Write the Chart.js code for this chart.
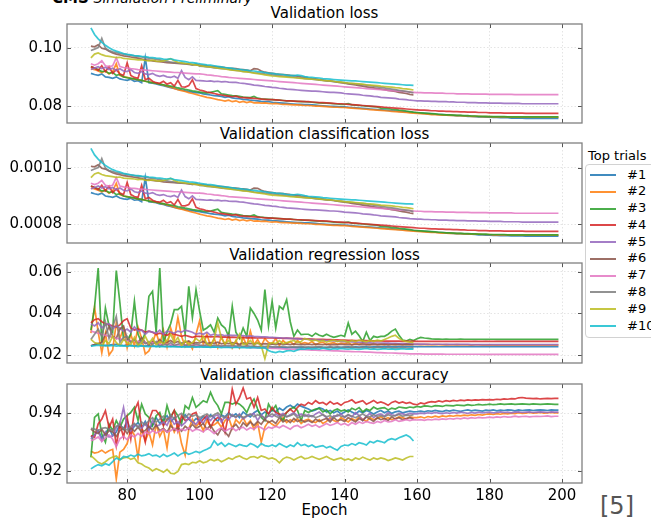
<!DOCTYPE html>
<html><head><meta charset="utf-8">
<script src="https://cdn.jsdelivr.net/npm/chart.js@4.4.1/dist/chart.umd.min.js"></script>
<style>
body{margin:0;width:651px;height:519px;overflow:hidden;background:#fff;position:relative;font-family:"DejaVu Sans",sans-serif;color:#000}
.t{position:absolute;left:67px;width:515px;text-align:center;font-size:15px;line-height:18px;white-space:nowrap}
canvas{position:absolute;left:0}
#leg{position:absolute;left:585px;top:164px;width:80px;height:172px;border:1px solid #d2d2d2;border-radius:4px;background:#fff}
.li{position:absolute;left:4px;width:26px;height:2px}
.lt{position:absolute;left:41px;font-size:13px;line-height:16px;white-space:nowrap}
</style></head><body>
<div style="position:absolute;left:52px;top:-11px;font-size:15px;line-height:18px;white-space:nowrap"><b>CMS</b> <i style="font-size:14px">Simulation Preliminary</i></div>
<div class="t" id="t1" style="top:4px"></div>
<div class="t" id="t2" style="top:125px"></div>
<div class="t" id="t3" style="top:246px"></div>
<div class="t" id="t4" style="top:366px"></div>
<div class="t" id="xt" style="top:501px"></div>
<div style="position:absolute;left:588px;top:148px;font-size:13px;line-height:16px;white-space:nowrap">Top trials</div>
<div id="leg"></div>
<div style="position:absolute;left:600px;top:492px;font-size:24px;line-height:28px;color:#555;white-space:nowrap">[5]</div>
<script>
const names=['#1','#2','#3','#4','#5','#6','#7','#8','#9','#10'];
const colors=['#1f77b4','#ff7f0e','#2ca02c','#d62728','#9467bd','#8c564b','#e377c2','#7f7f7f','#bcbd22','#17becf'];
const titles=['Validation loss','Validation classification loss','Validation regression loss','Validation classification accuracy'];
const xLabel='Epoch';
const xTicks=[80,100,120,140,160,180,200];
const yTicks1=[0.08,0.10], yLabels1=['0.08','0.10'];
const yTicks2=[0.0008,0.0010], yLabels2=['0.0008','0.0010'];
const yTicks3=[0.02,0.04,0.06], yLabels3=['0.02','0.04','0.06'];
const yTicks4=[0.92,0.94], yLabels4=['0.92','0.94'];
const epochs=[];for(let e=70;e<=199;e++)epochs.push(e);

// Validation loss
const loss1=[.0912,.0908,.0905,.0910,.0900,.0898,.0895,.0900,.0893,.0890,.0888,.0892,.0885,.0887,.0880,.0965,.0880,.0878,.0876,.0872,.0870,.0866,.0863,.0860,.0857,.0855,.0852,.0850,.0848,.0846,.0845,.0842,.0840,.0838,.0836,.0835,.0833,.0830,.0832,.0828,.0826,.0825,.0823,.0822,.0820,.0819,.0818,.0816,.0815,.0815,.0813,.0812,.0811,.0810,.0809,.0808,.0807,.0806,.0806,.0805,.0805,.0804,.0803,.0802,.0801,.0800,.0799,.0799,.0798,.0797,.0797,.0796,.0795,.0794,.0793,.0792,.0791,.0790,.0789,.0788,.0787,.0786,.0785,.0784,.0783,.0782,.0781,.0780,.0779,.0778,.0777,.0776,.0775,.0774,.0773,.0772,.0771,.0771,.0770,.0769,.0768,.0767,.0767,.0766,.0765,.0765,.0764,.0763,.0763,.0762,.0762,.0761,.0761,.0760,.0760,.0760,.0759,.0759,.0759,.0759,.0758,.0758,.0758,.0758,.0758,.0758,.0758,.0758,.0758,.0758];
const loss2=[.0928,.0925,.0920,.0915,.0920,.0910,.0918,.0945,.0905,.0900,.0898,.0895,.0892,.0890,.0888,.0885,.0884,.0880,.0878,.0875,.0872,.0868,.0865,.0860,.0856,.0853,.0850,.0846,.0843,.0840,.0836,.0833,.0830,.0828,.0825,.0822,.0820,.0817,.0820,.0815,.0818,.0813,.0816,.0812,.0815,.0811,.0812,.0810,.0811,.0809,.0808,.0809,.0807,.0806,.0806,.0805,.0804,.0804,.0803,.0802,.0802,.0801,.0800,.0800,.0799,.0798,.0797,.0796,.0796,.0795,.0795,.0794,.0793,.0792,.0791,.0790,.0789,.0788,.0787,.0786,.0785,.0784,.0783,.0782,.0781,.0780,.0779,.0778,.0777,.0776,.0775,.0774,.0773,.0772,.0771,.0771,.0770,.0769,.0769,.0768,.0768,.0767,.0767,.0766,.0766,.0765,.0765,.0765,.0764,.0764,.0764,.0763,.0763,.0763,.0763,.0763,.0762,.0762,.0762,.0762,.0762,.0762,.0762,.0762,.0762,.0762,.0762,.0762,.0762,.0762];
const loss3=[.0935,.0930,.0925,.0918,.0920,.0912,.0915,.0905,.0908,.0900,.0897,.0895,.0893,.0890,.0888,.0885,.0882,.0880,.0878,.0875,.0873,.0870,.0868,.0866,.0862,.0860,.0857,.0855,.0852,.0850,.0848,.0846,.0845,.0847,.0850,.0853,.0842,.0840,.0838,.0836,.0835,.0833,.0831,.0830,.0829,.0833,.0827,.0825,.0824,.0823,.0822,.0821,.0820,.0819,.0818,.0818,.0817,.0816,.0815,.0815,.0814,.0813,.0812,.0811,.0810,.0810,.0809,.0808,.0807,.0806,.0806,.0808,.0804,.0803,.0802,.0801,.0800,.0799,.0798,.0797,.0793,.0792,.0791,.0789,.0788,.0786,.0785,.0783,.0781,.0779,.0778,.0777,.0776,.0775,.0774,.0773,.0772,.0771,.0770,.0770,.0769,.0768,.0768,.0767,.0767,.0766,.0766,.0765,.0765,.0765,.0764,.0764,.0764,.0764,.0764,.0763,.0763,.0763,.0763,.0763,.0763,.0763,.0763,.0763,.0763,.0763,.0763,.0763,.0763,.0763];
const loss4=[.0935,.0930,.0922,.0938,.0918,.0935,.0912,.0925,.0910,.0905,.0948,.0905,.0898,.0895,.0938,.0890,.0895,.0885,.0880,.0878,.0885,.0875,.0880,.0868,.0888,.0866,.0865,.0870,.0890,.0860,.0855,.0852,.0848,.0846,.0843,.0840,.0838,.0836,.0834,.0832,.0834,.0830,.0829,.0828,.0827,.0826,.0825,.0824,.0823,.0822,.0822,.0821,.0820,.0819,.0818,.0818,.0817,.0816,.0816,.0815,.0815,.0814,.0813,.0812,.0812,.0811,.0810,.0809,.0808,.0808,.0807,.0806,.0805,.0804,.0803,.0802,.0801,.0800,.0799,.0798,.0797,.0796,.0795,.0794,.0793,.0792,.0791,.0790,.0789,.0788,.0787,.0786,.0786,.0785,.0784,.0784,.0783,.0783,.0782,.0782,.0781,.0781,.0780,.0780,.0779,.0779,.0779,.0778,.0778,.0778,.0777,.0777,.0777,.0777,.0776,.0776,.0776,.0776,.0776,.0776,.0775,.0775,.0775,.0775,.0775,.0775,.0775,.0775,.0775,.0775];
const loss5=[.0925,.0930,.0935,.0928,.0933,.0925,.0930,.0922,.0928,.0920,.0918,.0925,.0915,.0912,.0918,.0910,.0908,.0912,.0905,.0902,.0905,.0900,.0898,.0902,.0895,.0921,.0898,.0890,.0900,.0888,.0887,.0886,.0885,.0886,.0884,.0885,.0883,.0884,.0882,.0881,.0881,.0879,.0878,.0876,.0874,.0872,.0871,.0869,.0867,.0866,.0864,.0863,.0861,.0860,.0858,.0857,.0856,.0855,.0854,.0853,.0852,.0851,.0851,.0850,.0849,.0848,.0847,.0847,.0846,.0845,.0843,.0842,.0841,.0840,.0839,.0837,.0836,.0835,.0833,.0832,.0830,.0829,.0828,.0827,.0826,.0824,.0823,.0822,.0820,.0819,.0818,.0818,.0817,.0817,.0816,.0816,.0815,.0815,.0815,.0814,.0814,.0813,.0813,.0813,.0812,.0812,.0812,.0811,.0811,.0811,.0810,.0810,.0810,.0810,.0809,.0809,.0809,.0809,.0809,.0808,.0808,.0808,.0808,.0808,.0808,.0808,.0808,.0808,.0808,.0808];
const loss6=[.1005,.1003,.1010,.0998,.0995,.0988,.0982,.0978,.0975,.0972,.0970,.0968,.0966,.0964,.0961,.0958,.0957,.0955,.0953,.0952,.0950,.0949,.0948,.0947,.0946,.0945,.0944,.0943,.0942,.0941,.0940,.0939,.0938,.0936,.0935,.0934,.0933,.0932,.0930,.0929,.0928,.0926,.0925,.0923,.0921,.0928,.0927,.0920,.0916,.0914,.0912,.0910,.0909,.0908,.0907,.0905,.0904,.0902,.0900,.0899,.0896,.0894,.0893,.0891,.0889,.0887,.0886,.0884,.0882,.0880,.0878,.0876,.0874,.0872,.0870,.0868,.0866,.0864,.0862,.0860,.0858,.0856,.0854,.0852,.0850,.0847,.0845,.0843,.0840,.0838];
const loss7=[.0945,.0940,.0945,.0955,.0938,.0935,.0938,.0965,.0935,.0932,.0930,.0928,.0927,.0925,.0924,.0923,.0922,.0921,.0920,.0919,.0918,.0917,.0916,.0915,.0915,.0914,.0913,.0912,.0911,.0910,.0910,.0909,.0907,.0906,.0904,.0903,.0901,.0900,.0898,.0897,.0896,.0895,.0894,.0893,.0892,.0891,.0890,.0889,.0888,.0887,.0886,.0885,.0884,.0883,.0882,.0881,.0880,.0879,.0878,.0877,.0876,.0875,.0874,.0873,.0872,.0871,.0870,.0869,.0868,.0867,.0866,.0865,.0864,.0863,.0862,.0861,.0860,.0859,.0858,.0857,.0856,.0855,.0854,.0853,.0852,.0851,.0850,.0849,.0848,.0847,.0846,.0846,.0845,.0845,.0845,.0844,.0844,.0844,.0843,.0843,.0843,.0842,.0842,.0842,.0842,.0841,.0841,.0841,.0841,.0841,.0840,.0840,.0840,.0840,.0840,.0840,.0840,.0839,.0839,.0839,.0839,.0839,.0839,.0839,.0839,.0839,.0839,.0839,.0839,.0839];
const loss8=[.0990,.0995,.1000,.1032,.0998,.0990,.0986,.0983,.0980,.0978,.0976,.0974,.0972,.0970,.0968,.0966,.0964,.0962,.0960,.0958,.0955,.0953,.0951,.0949,.0947,.0946,.0945,.0944,.0940,.0945,.0937,.0936,.0934,.0933,.0931,.0930,.0928,.0927,.0926,.0924,.0922,.0921,.0919,.0918,.0916,.0914,.0913,.0912,.0910,.0909,.0907,.0906,.0904,.0903,.0902,.0900,.0899,.0897,.0896,.0894,.0893,.0892,.0890,.0889,.0888,.0886,.0885,.0884,.0882,.0881,.0880,.0878,.0877,.0876,.0874,.0873,.0872,.0870,.0868,.0866,.0864,.0862,.0860,.0858,.0856,.0854,.0852,.0850,.0848,.0845];
const loss9=[.0965,.0978,.0982,.0976,.0972,.0970,.0968,.0966,.0967,.0963,.0962,.0961,.0960,.0958,.0959,.0956,.0955,.0957,.0954,.0953,.0955,.0958,.0962,.0955,.0950,.0948,.0946,.0945,.0943,.0941,.0938,.0937,.0935,.0934,.0932,.0930,.0929,.0927,.0925,.0923,.0922,.0920,.0918,.0917,.0915,.0913,.0911,.0909,.0907,.0905,.0903,.0902,.0901,.0900,.0899,.0898,.0897,.0896,.0895,.0894,.0893,.0892,.0891,.0890,.0888,.0887,.0886,.0885,.0883,.0882,.0880,.0879,.0878,.0877,.0876,.0875,.0873,.0872,.0871,.0870,.0868,.0867,.0866,.0865,.0863,.0862,.0860,.0859,.0857,.0855];
const loss10=[.1068,.1045,.1030,.1018,.1008,.1000,.0993,.0988,.0984,.0980,.0977,.0975,.0973,.0972,.0970,.0969,.0967,.0966,.0964,.0963,.0961,.0960,.0962,.0958,.0956,.0954,.0952,.0950,.0949,.0947,.0945,.0943,.0941,.0940,.0938,.0936,.0934,.0932,.0931,.0929,.0927,.0926,.0924,.0923,.0921,.0920,.0918,.0917,.0915,.0913,.0912,.0910,.0909,.0908,.0906,.0905,.0904,.0906,.0904,.0901,.0899,.0898,.0897,.0896,.0894,.0893,.0892,.0891,.0890,.0889,.0888,.0887,.0886,.0886,.0885,.0884,.0883,.0882,.0881,.0880,.0879,.0878,.0877,.0876,.0875,.0874,.0873,.0872,.0872,.0871];

// Validation classification loss
const cls1=[.000912,.000908,.000905,.000910,.000900,.000898,.000895,.000900,.000893,.000890,.000888,.000892,.000885,.000887,.000880,.000965,.000880,.000878,.000876,.000872,.000870,.000866,.000863,.000860,.000857,.000855,.000852,.000850,.000848,.000846,.000845,.000842,.000840,.000838,.000836,.000835,.000833,.000830,.000832,.000828,.000826,.000825,.000823,.000822,.000820,.000819,.000818,.000816,.000815,.000815,.000813,.000812,.000811,.000810,.000809,.000808,.000807,.000806,.000806,.000805,.000805,.000804,.000803,.000802,.000801,.000800,.000799,.000799,.000798,.000797,.000797,.000796,.000795,.000794,.000793,.000792,.000791,.000790,.000789,.000788,.000787,.000786,.000785,.000784,.000783,.000782,.000781,.000780,.000779,.000778,.000777,.000776,.000775,.000774,.000773,.000772,.000771,.000771,.000770,.000769,.000768,.000767,.000767,.000766,.000765,.000765,.000764,.000763,.000763,.000762,.000762,.000761,.000761,.000760,.000760,.000760,.000759,.000759,.000759,.000759,.000758,.000758,.000758,.000758,.000758,.000758,.000758,.000758,.000758,.000758];
const cls2=[.000928,.000925,.000920,.000915,.000920,.000910,.000918,.000945,.000905,.000900,.000898,.000895,.000892,.000890,.000888,.000885,.000884,.000880,.000878,.000875,.000872,.000868,.000865,.000860,.000856,.000853,.000850,.000846,.000843,.000840,.000836,.000833,.000830,.000828,.000825,.000822,.000820,.000817,.000820,.000815,.000818,.000813,.000816,.000812,.000815,.000811,.000812,.000810,.000811,.000809,.000808,.000809,.000807,.000806,.000806,.000805,.000804,.000804,.000803,.000802,.000802,.000801,.000800,.000800,.000799,.000798,.000797,.000796,.000796,.000795,.000795,.000794,.000793,.000792,.000791,.000790,.000789,.000788,.000787,.000786,.000785,.000784,.000783,.000782,.000781,.000780,.000779,.000778,.000777,.000776,.000775,.000774,.000773,.000772,.000771,.000771,.000770,.000769,.000769,.000768,.000768,.000767,.000767,.000766,.000766,.000765,.000765,.000765,.000764,.000764,.000764,.000763,.000763,.000763,.000763,.000763,.000762,.000762,.000762,.000762,.000762,.000762,.000762,.000762,.000762,.000762,.000762,.000762,.000762,.000762];
const cls3=[.000935,.000930,.000925,.000918,.000920,.000912,.000915,.000905,.000908,.000900,.000897,.000895,.000893,.000890,.000888,.000885,.000882,.000880,.000878,.000875,.000873,.000870,.000868,.000866,.000862,.000860,.000857,.000855,.000852,.000850,.000848,.000846,.000845,.000847,.000850,.000853,.000842,.000840,.000838,.000836,.000835,.000833,.000831,.000830,.000829,.000833,.000827,.000825,.000824,.000823,.000822,.000821,.000820,.000819,.000818,.000818,.000817,.000816,.000815,.000815,.000814,.000813,.000812,.000811,.000810,.000810,.000809,.000808,.000807,.000806,.000806,.000808,.000804,.000803,.000802,.000801,.000800,.000799,.000798,.000797,.000793,.000792,.000791,.000789,.000788,.000786,.000785,.000783,.000781,.000779,.000778,.000777,.000776,.000775,.000774,.000773,.000772,.000771,.000770,.000770,.000769,.000768,.000768,.000767,.000767,.000766,.000766,.000765,.000765,.000765,.000764,.000764,.000764,.000764,.000764,.000763,.000763,.000763,.000763,.000763,.000763,.000763,.000763,.000763,.000763,.000763,.000763,.000763,.000763,.000763];
const cls4=[.000935,.000930,.000922,.000938,.000918,.000935,.000912,.000925,.000910,.000905,.000948,.000905,.000898,.000895,.000938,.000890,.000895,.000885,.000880,.000878,.000885,.000875,.000880,.000868,.000888,.000866,.000865,.000870,.000890,.000860,.000855,.000852,.000848,.000846,.000843,.000840,.000838,.000836,.000834,.000832,.000834,.000830,.000829,.000828,.000827,.000826,.000825,.000824,.000823,.000822,.000822,.000821,.000820,.000819,.000818,.000818,.000817,.000816,.000816,.000815,.000815,.000814,.000813,.000812,.000812,.000811,.000810,.000809,.000808,.000808,.000807,.000806,.000805,.000804,.000803,.000802,.000801,.000800,.000799,.000798,.000797,.000796,.000795,.000794,.000793,.000792,.000791,.000790,.000789,.000788,.000787,.000786,.000786,.000785,.000784,.000784,.000783,.000783,.000782,.000782,.000781,.000781,.000780,.000780,.000779,.000779,.000779,.000778,.000778,.000778,.000777,.000777,.000777,.000777,.000776,.000776,.000776,.000776,.000776,.000776,.000775,.000775,.000775,.000775,.000775,.000775,.000775,.000775,.000775,.000775];
const cls5=[.000925,.000930,.000935,.000928,.000933,.000925,.000930,.000922,.000928,.000920,.000918,.000925,.000915,.000912,.000918,.000910,.000908,.000912,.000905,.000902,.000905,.000900,.000898,.000902,.000895,.000921,.000898,.000890,.000900,.000888,.000887,.000886,.000885,.000886,.000884,.000885,.000883,.000884,.000882,.000881,.000881,.000879,.000878,.000876,.000874,.000872,.000871,.000869,.000867,.000866,.000864,.000863,.000861,.000860,.000858,.000857,.000856,.000855,.000854,.000853,.000852,.000851,.000851,.000850,.000849,.000848,.000847,.000847,.000846,.000845,.000843,.000842,.000841,.000840,.000839,.000837,.000836,.000835,.000833,.000832,.000830,.000829,.000828,.000827,.000826,.000824,.000823,.000822,.000820,.000819,.000818,.000818,.000817,.000817,.000816,.000816,.000815,.000815,.000815,.000814,.000814,.000813,.000813,.000813,.000812,.000812,.000812,.000811,.000811,.000811,.000810,.000810,.000810,.000810,.000809,.000809,.000809,.000809,.000809,.000808,.000808,.000808,.000808,.000808,.000808,.000808,.000808,.000808,.000808,.000808];
const cls6=[.001005,.001003,.001010,.000998,.000995,.000988,.000982,.000978,.000975,.000972,.000970,.000968,.000966,.000964,.000961,.000958,.000957,.000955,.000953,.000952,.000950,.000949,.000948,.000947,.000946,.000945,.000944,.000943,.000942,.000941,.000940,.000939,.000938,.000936,.000935,.000934,.000933,.000932,.000930,.000929,.000928,.000926,.000925,.000923,.000921,.000928,.000927,.000920,.000916,.000914,.000912,.000910,.000909,.000908,.000907,.000905,.000904,.000902,.000900,.000899,.000896,.000894,.000893,.000891,.000889,.000887,.000886,.000884,.000882,.000880,.000878,.000876,.000874,.000872,.000870,.000868,.000866,.000864,.000862,.000860,.000858,.000856,.000854,.000852,.000850,.000847,.000845,.000843,.000840,.000838];
const cls7=[.000945,.000940,.000945,.000955,.000938,.000935,.000938,.000965,.000935,.000932,.000930,.000928,.000927,.000925,.000924,.000923,.000922,.000921,.000920,.000919,.000918,.000917,.000916,.000915,.000915,.000914,.000913,.000912,.000911,.000910,.000910,.000909,.000907,.000906,.000904,.000903,.000901,.000900,.000898,.000897,.000896,.000895,.000894,.000893,.000892,.000891,.000890,.000889,.000888,.000887,.000886,.000885,.000884,.000883,.000882,.000881,.000880,.000879,.000878,.000877,.000876,.000875,.000874,.000873,.000872,.000871,.000870,.000869,.000868,.000867,.000866,.000865,.000864,.000863,.000862,.000861,.000860,.000859,.000858,.000857,.000856,.000855,.000854,.000853,.000852,.000851,.000850,.000849,.000848,.000847,.000846,.000846,.000845,.000845,.000845,.000844,.000844,.000844,.000843,.000843,.000843,.000842,.000842,.000842,.000842,.000841,.000841,.000841,.000841,.000841,.000840,.000840,.000840,.000840,.000840,.000840,.000840,.000839,.000839,.000839,.000839,.000839,.000839,.000839,.000839,.000839,.000839,.000839,.000839,.000839];
const cls8=[.000990,.000995,.001000,.001032,.000998,.000990,.000986,.000983,.000980,.000978,.000976,.000974,.000972,.000970,.000968,.000966,.000964,.000962,.000960,.000958,.000955,.000953,.000951,.000949,.000947,.000946,.000945,.000944,.000940,.000945,.000937,.000936,.000934,.000933,.000931,.000930,.000928,.000927,.000926,.000924,.000922,.000921,.000919,.000918,.000916,.000914,.000913,.000912,.000910,.000909,.000907,.000906,.000904,.000903,.000902,.000900,.000899,.000897,.000896,.000894,.000893,.000892,.000890,.000889,.000888,.000886,.000885,.000884,.000882,.000881,.000880,.000878,.000877,.000876,.000874,.000873,.000872,.000870,.000868,.000866,.000864,.000862,.000860,.000858,.000856,.000854,.000852,.000850,.000848,.000845];
const cls9=[.000965,.000978,.000982,.000976,.000972,.000970,.000968,.000966,.000967,.000963,.000962,.000961,.000960,.000958,.000959,.000956,.000955,.000957,.000954,.000953,.000955,.000958,.000962,.000955,.000950,.000948,.000946,.000945,.000943,.000941,.000938,.000937,.000935,.000934,.000932,.000930,.000929,.000927,.000925,.000923,.000922,.000920,.000918,.000917,.000915,.000913,.000911,.000909,.000907,.000905,.000903,.000902,.000901,.000900,.000899,.000898,.000897,.000896,.000895,.000894,.000893,.000892,.000891,.000890,.000888,.000887,.000886,.000885,.000883,.000882,.000880,.000879,.000878,.000877,.000876,.000875,.000873,.000872,.000871,.000870,.000868,.000867,.000866,.000865,.000863,.000862,.000860,.000859,.000857,.000855];
const cls10=[.001068,.001045,.001030,.001018,.001008,.001000,.000993,.000988,.000984,.000980,.000977,.000975,.000973,.000972,.000970,.000969,.000967,.000966,.000964,.000963,.000961,.000960,.000962,.000958,.000956,.000954,.000952,.000950,.000949,.000947,.000945,.000943,.000941,.000940,.000938,.000936,.000934,.000932,.000931,.000929,.000927,.000926,.000924,.000923,.000921,.000920,.000918,.000917,.000915,.000913,.000912,.000910,.000909,.000908,.000906,.000905,.000904,.000906,.000904,.000901,.000899,.000898,.000897,.000896,.000894,.000893,.000892,.000891,.000890,.000889,.000888,.000887,.000886,.000886,.000885,.000884,.000883,.000882,.000881,.000880,.000879,.000878,.000877,.000876,.000875,.000874,.000873,.000872,.000872,.000871];

// Validation regression loss
const reg1=[.0245,.0250,.0255,.0250,.0245,.0248,.0250,.0252,.0248,.0245,.0250,.0247,.0244,.0248,.0245,.0243,.0246,.0244,.0242,.0245,.0243,.0240,.0244,.0242,.0241,.0243,.0240,.0242,.0239,.0241,.0240,.0242,.0239,.0241,.0238,.0240,.0242,.0239,.0238,.0240,.0239,.0237,.0240,.0238,.0236,.0239,.0237,.0238,.0236,.0238,.0237,.0236,.0238,.0236,.0235,.0237,.0236,.0235,.0237,.0236,.0235,.0237,.0236,.0238,.0236,.0237,.0238,.0236,.0238,.0237,.0238,.0239,.0237,.0239,.0238,.0240,.0239,.0238,.0240,.0239,.0240,.0239,.0241,.0240,.0239,.0241,.0240,.0241,.0240,.0241,.0241,.0241,.0240,.0241,.0240,.0241,.0240,.0240,.0241,.0240,.0240,.0241,.0240,.0240,.0240,.0241,.0240,.0240,.0240,.0240,.0240,.0240,.0241,.0240,.0240,.0240,.0240,.0240,.0240,.0240,.0240,.0240,.0240,.0240,.0240,.0240,.0240,.0240,.0240,.0240];
const reg2=[.0305,.0430,.0310,.0210,.0305,.0200,.0225,.0355,.0280,.0330,.0235,.0300,.0245,.0335,.0280,.0205,.0220,.0260,.0310,.0250,.0320,.0240,.0330,.0275,.0380,.0290,.0240,.0265,.0230,.0300,.0365,.0250,.0300,.0245,.0280,.0235,.0290,.0245,.0300,.0235,.0270,.0235,.0285,.0245,.0315,.0250,.0275,.0245,.0280,.0260,.0255,.0280,.0245,.0270,.0255,.0265,.0250,.0270,.0255,.0260,.0255,.0265,.0250,.0258,.0262,.0250,.0256,.0260,.0252,.0258,.0255,.0260,.0250,.0256,.0252,.0258,.0254,.0250,.0256,.0252,.0254,.0250,.0255,.0252,.0250,.0254,.0251,.0253,.0250,.0252,.0251,.0250,.0250,.0251,.0249,.0250,.0250,.0249,.0250,.0249,.0249,.0250,.0249,.0249,.0249,.0248,.0249,.0249,.0248,.0248,.0249,.0248,.0248,.0248,.0248,.0248,.0248,.0248,.0248,.0248,.0248,.0248,.0248,.0248,.0248,.0248,.0248,.0248,.0248,.0248];
const reg3=[.0320,.0430,.0618,.0260,.0426,.0340,.0310,.0606,.0450,.0275,.0270,.0300,.0458,.0300,.0260,.0310,.0482,.0506,.0310,.0618,.0260,.0310,.0350,.0418,.0418,.0434,.0300,.0530,.0380,.0514,.0410,.0320,.0330,.0345,.0310,.0378,.0345,.0330,.0290,.0434,.0310,.0280,.0330,.0290,.0426,.0400,.0368,.0320,.0514,.0340,.0458,.0330,.0434,.0420,.0466,.0360,.0290,.0320,.0298,.0300,.0300,.0290,.0305,.0295,.0290,.0300,.0292,.0285,.0290,.0295,.0290,.0354,.0300,.0315,.0293,.0265,.0310,.0270,.0290,.0285,.0290,.0290,.0300,.0315,.0325,.0295,.0272,.0268,.0275,.0270,.0278,.0285,.0282,.0280,.0278,.0277,.0277,.0276,.0277,.0276,.0276,.0276,.0277,.0276,.0276,.0276,.0275,.0276,.0276,.0275,.0276,.0276,.0275,.0275,.0276,.0275,.0275,.0275,.0275,.0276,.0275,.0275,.0275,.0275,.0275,.0275,.0275,.0275,.0275,.0275];
const reg4=[.0355,.0370,.0375,.0360,.0350,.0345,.0340,.0335,.0345,.0365,.0375,.0330,.0320,.0325,.0320,.0310,.0315,.0310,.0300,.0305,.0300,.0295,.0305,.0300,.0295,.0290,.0295,.0290,.0285,.0290,.0290,.0288,.0290,.0287,.0288,.0288,.0286,.0287,.0285,.0286,.0285,.0284,.0285,.0283,.0284,.0283,.0282,.0283,.0282,.0282,.0282,.0281,.0282,.0280,.0281,.0280,.0279,.0280,.0279,.0278,.0278,.0277,.0276,.0276,.0275,.0274,.0274,.0273,.0273,.0272,.0272,.0271,.0271,.0270,.0270,.0269,.0269,.0268,.0268,.0268,.0268,.0267,.0267,.0267,.0267,.0267,.0266,.0267,.0266,.0267,.0266,.0266,.0266,.0266,.0266,.0266,.0266,.0266,.0266,.0266,.0266,.0266,.0266,.0266,.0266,.0266,.0266,.0266,.0266,.0266,.0266,.0266,.0266,.0266,.0266,.0266,.0266,.0266,.0266,.0266,.0266,.0266,.0266,.0266,.0266,.0266,.0266,.0266,.0266,.0266];
const reg5=[.0350,.0340,.0355,.0330,.0345,.0350,.0325,.0340,.0330,.0315,.0325,.0310,.0335,.0315,.0320,.0300,.0315,.0310,.0305,.0320,.0300,.0315,.0310,.0305,.0315,.0310,.0320,.0315,.0310,.0300,.0305,.0300,.0310,.0295,.0300,.0295,.0298,.0293,.0296,.0295,.0295,.0292,.0294,.0290,.0292,.0290,.0289,.0287,.0288,.0286,.0285,.0284,.0283,.0282,.0281,.0280,.0279,.0278,.0277,.0276,.0275,.0274,.0273,.0272,.0271,.0270,.0269,.0268,.0267,.0266,.0265,.0264,.0263,.0262,.0261,.0260,.0259,.0259,.0258,.0258,.0258,.0257,.0257,.0256,.0256,.0255,.0255,.0254,.0254,.0253,.0253,.0253,.0253,.0252,.0252,.0252,.0252,.0252,.0251,.0251,.0251,.0251,.0251,.0251,.0251,.0250,.0250,.0250,.0250,.0250,.0250,.0250,.0250,.0250,.0250,.0250,.0250,.0250,.0250,.0250,.0250,.0250,.0250,.0250,.0250,.0250,.0250,.0250,.0250,.0250];
const reg6=[.0245,.0250,.0255,.0260,.0300,.0335,.0290,.0280,.0325,.0340,.0280,.0265,.0275,.0260,.0285,.0260,.0250,.0265,.0255,.0275,.0255,.0262,.0270,.0258,.0265,.0255,.0262,.0268,.0255,.0260,.0258,.0265,.0255,.0260,.0256,.0262,.0254,.0258,.0255,.0260,.0256,.0252,.0258,.0254,.0256,.0253,.0257,.0252,.0255,.0253,.0254,.0251,.0255,.0252,.0253,.0250,.0254,.0251,.0252,.0250,.0252,.0250,.0253,.0251,.0250,.0252,.0249,.0251,.0250,.0252,.0250,.0251,.0249,.0252,.0250,.0251,.0249,.0250,.0251,.0249,.0250,.0251,.0249,.0250,.0251,.0250,.0249,.0251,.0250,.0250];
const reg7=[.0315,.0310,.0305,.0300,.0295,.0290,.0285,.0280,.0278,.0275,.0270,.0268,.0270,.0265,.0262,.0260,.0258,.0260,.0255,.0253,.0250,.0252,.0250,.0249,.0250,.0248,.0249,.0247,.0248,.0246,.0245,.0246,.0244,.0245,.0243,.0242,.0243,.0241,.0241,.0240,.0240,.0239,.0239,.0238,.0237,.0236,.0236,.0235,.0234,.0233,.0232,.0232,.0231,.0230,.0229,.0228,.0228,.0227,.0226,.0226,.0225,.0224,.0224,.0223,.0222,.0222,.0221,.0220,.0220,.0219,.0218,.0218,.0217,.0216,.0216,.0215,.0214,.0214,.0213,.0212,.0212,.0211,.0210,.0210,.0209,.0208,.0208,.0207,.0206,.0206,.0206,.0206,.0205,.0205,.0205,.0205,.0205,.0205,.0204,.0204,.0204,.0204,.0204,.0204,.0204,.0204,.0204,.0204,.0203,.0203,.0203,.0203,.0203,.0203,.0203,.0203,.0203,.0203,.0203,.0203,.0203,.0203,.0203,.0203,.0203,.0203,.0203,.0203,.0203,.0203];
const reg8=[.0275,.0300,.0325,.0290,.0360,.0280,.0335,.0386,.0260,.0285,.0290,.0260,.0275,.0250,.0270,.0255,.0265,.0250,.0265,.0240,.0255,.0248,.0260,.0245,.0252,.0258,.0246,.0250,.0244,.0252,.0248,.0245,.0250,.0243,.0248,.0246,.0242,.0247,.0244,.0248,.0243,.0246,.0241,.0245,.0242,.0244,.0240,.0243,.0241,.0244,.0240,.0242,.0239,.0243,.0240,.0238,.0241,.0239,.0242,.0238,.0240,.0237,.0239,.0241,.0238,.0236,.0239,.0237,.0240,.0236,.0238,.0236,.0239,.0237,.0235,.0238,.0236,.0237,.0235,.0238,.0236,.0234,.0237,.0235,.0236,.0234,.0237,.0235,.0234,.0235];
const reg9=[.0275,.0260,.0255,.0245,.0270,.0255,.0290,.0260,.0245,.0275,.0260,.0250,.0285,.0245,.0260,.0290,.0255,.0280,.0250,.0265,.0255,.0270,.0300,.0260,.0285,.0245,.0270,.0250,.0260,.0280,.0265,.0290,.0255,.0245,.0275,.0355,.0280,.0255,.0270,.0250,.0265,.0300,.0250,.0255,.0270,.0250,.0260,.0245,.0183,.0250,.0260,.0255,.0270,.0255,.0260,.0265,.0270,.0260,.0265,.0280,.0275,.0268,.0272,.0265,.0270,.0262,.0268,.0272,.0265,.0270,.0268,.0262,.0270,.0265,.0272,.0268,.0264,.0270,.0266,.0272,.0268,.0275,.0282,.0290,.0295,.0280,.0270,.0265,.0262,.0261];
const reg10=[.0243,.0245,.0248,.0245,.0247,.0244,.0246,.0243,.0245,.0244,.0242,.0245,.0243,.0241,.0244,.0242,.0240,.0243,.0241,.0242,.0240,.0242,.0239,.0241,.0240,.0238,.0241,.0239,.0240,.0238,.0240,.0238,.0239,.0237,.0239,.0238,.0236,.0238,.0237,.0236,.0238,.0236,.0237,.0235,.0237,.0236,.0234,.0236,.0235,.0222,.0215,.0212,.0218,.0214,.0220,.0222,.0218,.0225,.0230,.0228,.0232,.0229,.0231,.0228,.0233,.0230,.0227,.0231,.0229,.0232,.0230,.0228,.0231,.0229,.0227,.0230,.0232,.0228,.0230,.0227,.0229,.0231,.0228,.0230,.0227,.0229,.0231,.0228,.0230,.0229];

// Validation classification accuracy
const acc1=[.9317,.9325,.934,.9315,.933,.935,.9322,.9335,.9362,.9345,.9375,.9338,.9355,.9368,.935,.9372,.9345,.936,.9385,.9365,.9378,.9392,.937,.9385,.936,.9375,.9395,.938,.9368,.9382,.9375,.939,.9378,.9395,.9385,.9372,.9395,.9388,.9402,.939,.9398,.9385,.9405,.9395,.9388,.9402,.941,.9395,.9405,.9398,.9412,.9405,.9418,.941,.9422,.9428,.942,.9432,.9425,.942,.9415,.9408,.9412,.942,.9415,.9405,.941,.9402,.9408,.9398,.9405,.9412,.9405,.9398,.9408,.9402,.941,.9405,.9398,.9405,.941,.9402,.9408,.94,.9405,.9408,.9402,.9405,.9408,.9405,.9406,.9408,.9405,.9409,.9407,.941,.9408,.9406,.941,.9408,.9411,.9409,.9407,.941,.9412,.9409,.9411,.941,.9408,.9411,.941,.9412,.9409,.9411,.941,.9412,.9411,.9409,.9412,.941,.9411,.9412,.941,.9411,.9412,.9411,.941,.9412,.9411,.9411];
const acc2=[.9268,.9262,.9265,.9272,.9262,.927,.9275,.9172,.9265,.9275,.9295,.9345,.9325,.9245,.9355,.9305,.9335,.929,.9362,.932,.9345,.928,.937,.9335,.936,.9295,.9255,.9345,.938,.9355,.9368,.934,.9375,.9355,.936,.937,.9352,.9375,.9385,.9348,.9378,.9365,.9385,.936,.9375,.9345,.9368,.930,.9352,.9372,.9362,.9355,.937,.9385,.9368,.9378,.937,.9382,.9365,.9375,.938,.9372,.9368,.9378,.9365,.9372,.9385,.9375,.937,.9385,.9378,.937,.9382,.9375,.9388,.938,.9372,.9385,.9378,.9382,.9388,.938,.9385,.9378,.9382,.9388,.9385,.938,.9388,.9385,.9385,.9388,.9384,.9389,.9386,.939,.9387,.9391,.9389,.9392,.939,.9393,.9391,.9394,.9392,.9395,.9393,.9396,.9394,.9397,.9398,.9396,.9399,.9397,.94,.9398,.9401,.9399,.9402,.94,.9401,.9403,.9401,.9402,.9403,.9401,.9402,.9403,.9402,.9402];
const acc3=[.9247,.9386,.9398,.9328,.930,.9363,.934,.9375,.9351,.938,.9392,.9403,.9421,.9375,.9432,.9398,.9386,.9357,.9392,.9403,.9363,.9427,.9386,.941,.9392,.9363,.9427,.9415,.9455,.9421,.9432,.9444,.9438,.9473,.9444,.9427,.9398,.9438,.9438,.9432,.9438,.9432,.9421,.9403,.9432,.945,.9415,.9386,.9375,.9432,.941,.9427,.9392,.9375,.9403,.9415,.9421,.941,.9375,.941,.9403,.941,.9415,.9417,.9405,.9412,.9398,.941,.9415,.9408,.9412,.9405,.9418,.9412,.942,.9405,.9415,.941,.9422,.9415,.9418,.942,.9412,.9418,.9415,.9422,.942,.9418,.9422,.942,.9424,.9422,.9426,.9425,.9423,.9427,.9426,.9424,.9428,.9427,.9426,.9429,.9428,.9427,.943,.9428,.9429,.9431,.9429,.943,.9432,.943,.9431,.9433,.9431,.9432,.9433,.9431,.9432,.9433,.9432,.9431,.9433,.9432,.9431,.9432,.9433,.9432,.9431,.9431];
const acc4=[.9323,.9317,.9363,.938,.9409,.9351,.938,.9288,.9363,.9317,.9386,.9311,.941,.9438,.9351,.930,.9375,.941,.941,.9392,.9357,.938,.9386,.941,.934,.9392,.9375,.938,.9398,.9403,.9363,.938,.9392,.9351,.9375,.9386,.938,.9334,.9398,.9484,.9432,.9455,.9488,.945,.9455,.9421,.9455,.941,.9415,.9398,.9421,.9403,.9398,.9392,.9403,.9415,.9403,.9421,.9432,.9427,.9438,.9432,.9444,.9435,.9438,.943,.9441,.9432,.9436,.9428,.9438,.9441,.9447,.9436,.944,.9444,.9432,.9438,.9445,.9436,.944,.9435,.9428,.9438,.9442,.9436,.944,.9435,.9438,.9432,.943,.9436,.9433,.9438,.9441,.9439,.9443,.944,.9444,.9442,.9445,.9443,.9446,.9444,.9447,.9445,.9447,.9446,.9448,.9447,.9448,.9447,.9449,.9448,.945,.9449,.9451,.945,.9454,.9455,.9453,.9452,.9451,.9452,.945,.9451,.9452,.9451,.9452,.9452];
const acc5=[.931,.9325,.934,.9305,.9335,.9318,.9322,.935,.9365,.942,.935,.9338,.9362,.9355,.9348,.9365,.934,.9375,.9355,.936,.937,.9358,.9385,.9362,.9372,.9357,.9368,.9385,.937,.9362,.938,.9365,.9388,.9375,.939,.9395,.937,.9388,.9378,.9395,.9385,.9398,.938,.939,.9395,.94,.9375,.9395,.938,.9392,.9388,.9398,.939,.94,.9388,.9395,.9402,.9392,.9398,.939,.9395,.9388,.9398,.9405,.9395,.9385,.9375,.9392,.939,.9398,.9385,.9395,.9388,.9402,.9392,.9375,.939,.94,.9385,.9395,.9398,.939,.9402,.9395,.9392,.94,.9398,.9395,.94,.9398,.9398,.9401,.9399,.9402,.94,.9403,.9401,.9399,.9402,.94,.9403,.9401,.9404,.9402,.94,.9403,.9401,.9404,.9402,.9403,.9404,.9402,.9403,.9405,.9403,.9404,.9402,.9404,.9405,.9403,.9404,.9405,.9403,.9404,.9405,.9404,.9403,.9405,.9404,.9404];
const acc6=[.9345,.9335,.933,.9345,.9325,.934,.9335,.932,.934,.9348,.933,.935,.9338,.9352,.9335,.934,.9355,.9342,.936,.934,.9348,.9335,.9358,.9342,.935,.9338,.9355,.9345,.9362,.9348,.9355,.9365,.9345,.9358,.9338,.9325,.9348,.9335,.932,.935,.9362,.9345,.9368,.9355,.937,.9358,.9372,.9362,.938,.9368,.9375,.9365,.9385,.937,.9378,.9368,.9382,.9372,.9378,.937,.9375,.9368,.938,.9372,.9378,.9382,.937,.9385,.9375,.9378,.9372,.9385,.9378,.937,.9382,.9375,.9388,.938,.9372,.9385,.9378,.9382,.9375,.9388,.938,.9385,.9378,.9382,.9385,.938];
const acc7=[.9305,.931,.9318,.9302,.9315,.9325,.931,.9285,.9312,.932,.9308,.9325,.9318,.933,.932,.9335,.9328,.934,.9332,.9338,.9345,.9335,.934,.9348,.9338,.9345,.934,.935,.9338,.9345,.9342,.9335,.9348,.934,.933,.9342,.935,.9338,.9345,.935,.934,.9348,.9352,.9342,.935,.9345,.9355,.935,.9342,.9352,.9348,.9355,.935,.9358,.9352,.9345,.9355,.9358,.935,.9355,.9362,.9355,.936,.9352,.9358,.9365,.9358,.9362,.9368,.936,.9365,.9358,.9368,.9362,.937,.9365,.9372,.9368,.9365,.9372,.9368,.9375,.937,.9372,.9378,.9372,.9375,.9378,.9375,.9378,.9377,.9378,.9376,.9379,.9377,.938,.9378,.9381,.9379,.9382,.938,.9383,.9381,.9384,.9382,.9385,.9383,.9386,.9384,.9385,.9387,.9385,.9388,.9386,.9389,.9387,.9388,.939,.9388,.9389,.939,.9388,.9389,.939,.9389,.939,.9391,.9389,.939,.939];
const acc8=[.9348,.9345,.934,.9348,.935,.9345,.934,.9355,.936,.9348,.9342,.9355,.9365,.935,.937,.936,.9375,.9385,.937,.938,.939,.9375,.9395,.938,.9392,.94,.9385,.9398,.939,.9395,.9385,.9392,.9398,.9388,.9395,.9402,.939,.9385,.9398,.9392,.9388,.9395,.9385,.9392,.9398,.9388,.9395,.939,.9385,.9392,.9398,.939,.9385,.9395,.9388,.9392,.9398,.9385,.939,.9395,.9388,.9392,.9385,.939,.9396,.9388,.9392,.9385,.9395,.939,.9388,.9395,.939,.9385,.9392,.9398,.939,.9388,.9395,.939,.9392,.9388,.9395,.939,.9392,.9396,.939,.9394,.9392,.9395];
const acc9=[.9253,.9242,.923,.9224,.9232,.9242,.9248,.9252,.924,.9245,.9248,.924,.9245,.9228,.9224,.9215,.921,.92,.9208,.9202,.9195,.9205,.9192,.919,.9198,.9222,.9225,.9222,.923,.9228,.9235,.9228,.9232,.924,.9235,.924,.9232,.9238,.9245,.924,.9248,.9252,.9245,.924,.9248,.925,.9245,.9252,.9248,.9242,.9245,.924,.9228,.9242,.9248,.9245,.9238,.9245,.925,.9242,.9245,.925,.9245,.924,.9245,.925,.9243,.9238,.9242,.9245,.9238,.9242,.9236,.9245,.924,.9248,.9242,.9238,.9245,.924,.9245,.9242,.9236,.924,.9245,.9242,.9238,.9245,.925,.925];
const acc10=[.9207,.9215,.9222,.9218,.9225,.922,.9232,.9245,.9238,.925,.9248,.9255,.925,.9258,.9252,.9255,.926,.9252,.9255,.9248,.9258,.925,.9255,.9262,.9252,.926,.9265,.9258,.9262,.9268,.9263,.927,.9275,.9282,.9305,.929,.9298,.9285,.9295,.929,.9285,.9292,.9288,.9285,.9295,.929,.9282,.9295,.9288,.9285,.929,.9285,.9295,.9288,.9282,.929,.9285,.9298,.9288,.9292,.9285,.929,.9282,.9285,.9288,.928,.9285,.9278,.9272,.9285,.929,.9288,.9295,.929,.9298,.9295,.929,.9302,.9298,.9305,.9302,.9298,.9308,.9312,.9308,.9315,.932,.9325,.9318,.9304];

const panels=[
 {top:24,h:99,yMin:.0742,yMax:.1081,ticks:yTicks1,labels:yLabels1,data:[loss1,loss2,loss3,loss4,loss5,loss6,loss7,loss8,loss9,loss10],showX:false},
 {top:143,h:100,yMin:.000734,yMax:.001087,ticks:yTicks2,labels:yLabels2,data:[cls1,cls2,cls3,cls4,cls5,cls6,cls7,cls8,cls9,cls10],showX:false},
 {top:263,h:100,yMin:.0162,yMax:.0642,ticks:yTicks3,labels:yLabels3,data:[reg1,reg2,reg3,reg4,reg5,reg6,reg7,reg8,reg9,reg10],showX:false},
 {top:384,h:99,yMin:.9158,yMax:.9502,ticks:yTicks4,labels:yLabels4,data:[acc1,acc2,acc3,acc4,acc5,acc6,acc7,acc8,acc9,acc10],showX:true}
];
titles.forEach((t,i)=>document.getElementById('t'+(i+1)).textContent=t);
document.getElementById('xt').textContent=xLabel;

const leg=document.getElementById('leg');
names.forEach((n,i)=>{
  const y=10+i*16.78;
  const l=document.createElement('div');l.className='li';l.style.top=(y-1)+'px';l.style.background=colors[i];l.style.opacity=.85;leg.appendChild(l);
  const tx=document.createElement('div');tx.className='lt';tx.style.top=(y-8.5)+'px';tx.textContent=n;leg.appendChild(tx);
});

Chart.defaults.font.family='"DejaVu Sans", sans-serif';
Chart.defaults.color='#000';
const framePlugin={id:'frame',afterDraw(c){
  const {ctx,chartArea:a,scales:{x,y}}=c;ctx.save();
  ctx.strokeStyle='#555';ctx.lineWidth=1;ctx.beginPath();
  x.ticks.forEach(t=>{const p=Math.round(x.getPixelForValue(t.value))+.5;ctx.moveTo(p,a.bottom);ctx.lineTo(p,a.bottom-4);ctx.moveTo(p,a.top);ctx.lineTo(p,a.top+4);});
  y.ticks.forEach(t=>{const p=Math.round(y.getPixelForValue(t.value))+.5;ctx.moveTo(a.left,p);ctx.lineTo(a.left+4,p);ctx.moveTo(a.right,p);ctx.lineTo(a.right-4,p);});
  ctx.stroke();
  ctx.strokeStyle='#808080';ctx.lineWidth=1.3;ctx.strokeRect(a.left,a.top,a.right-a.left,a.bottom-a.top);
  ctx.restore();}};

const padTop=18;
panels.forEach(p=>{
  const xh=p.showX?(519-(p.top+p.h)):18;
  const H=padTop+p.h+xh;
  const cv=document.createElement('canvas');cv.width=651;cv.height=H;
  cv.style.top=(p.top-padTop)+'px';cv.style.width='651px';cv.style.height=H+'px';
  document.body.appendChild(cv);
  new Chart(cv,{type:'line',
    data:{labels:epochs,datasets:p.data.map((d,i)=>({label:names[i],data:d,borderColor:colors[i]+'d9',borderWidth:1.7,pointRadius:0,tension:0,fill:false,order:-i}))},
    options:{responsive:false,animation:false,devicePixelRatio:1,events:[],
      layout:{padding:{left:0,right:69,top:padTop,bottom:0}},
      plugins:{legend:{display:false},tooltip:{enabled:false},title:{display:false}},
      scales:{
        x:{type:'linear',min:63.4,max:205.5,
          afterBuildTicks:s=>{s.ticks=xTicks.map(v=>({value:v}));},
          afterFit:s=>{s.height=xh;},
          grid:{color:'#e4e4e4',lineWidth:1,drawTicks:false},
          border:{display:false,dash:[1.5,2]},
          ticks:{display:p.showX,padding:4,maxRotation:0,autoSkip:false,font:{size:15},color:'#000',callback:v=>String(v)}},
        y:{type:'linear',min:p.yMin,max:p.yMax,
          afterBuildTicks:s=>{s.ticks=p.ticks.map(v=>({value:v}));},
          afterFit:s=>{s.width=67;},
          grid:{color:'#e4e4e4',lineWidth:1,drawTicks:false},
          border:{display:false,dash:[1.5,2]},
          ticks:{padding:5,autoSkip:false,font:{size:15},color:'#000',callback:(v,i)=>p.labels[i]}}
      }},
    plugins:[framePlugin]});
});
</script>
</body></html>
